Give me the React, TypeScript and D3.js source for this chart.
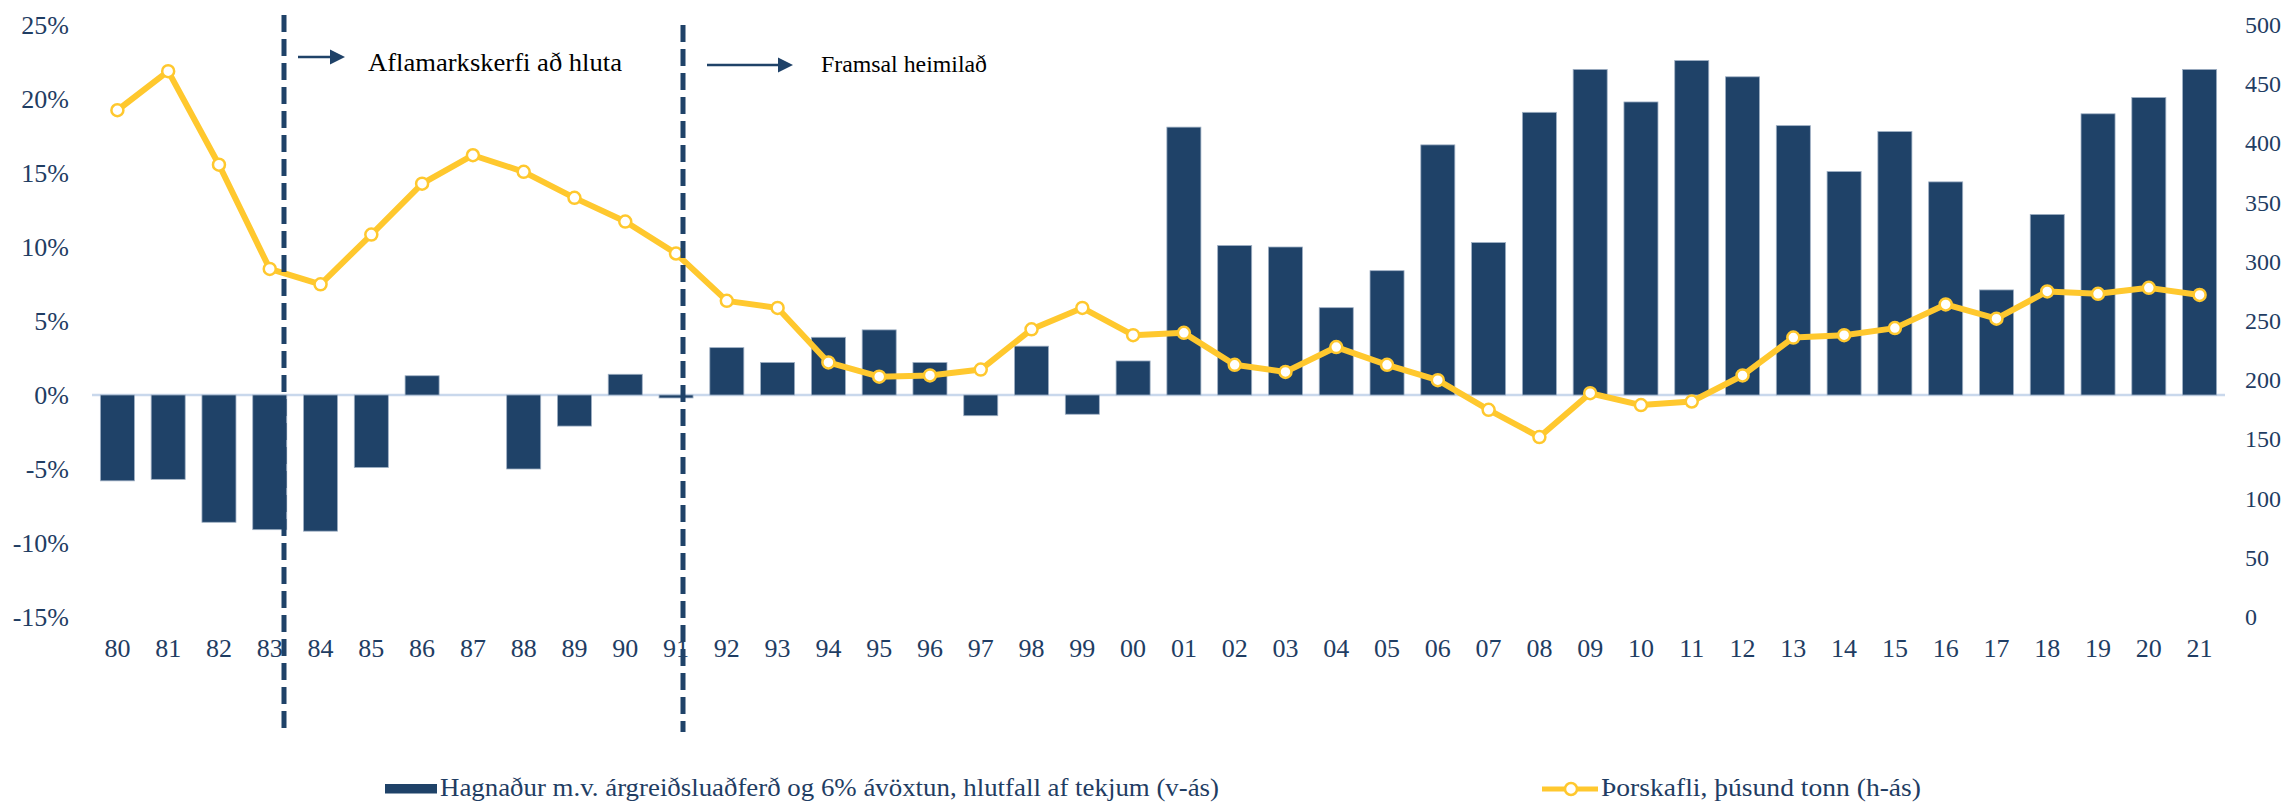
import React from "react";
import { scaleBand, scaleLinear, line } from "d3";

// ár (síðustu tveir stafir)
const categories = [
  "80", "81", "82", "83", "84", "85", "86", "87", "88", "89", "90", "91",
  "92", "93", "94", "95", "96", "97", "98", "99", "00", "01", "02", "03",
  "04", "05", "06", "07", "08", "09", "10", "11", "12", "13", "14", "15",
  "16", "17", "18", "19", "20", "21",
];

// Hagnaður, % af tekjum (vinstri ás)
const profitPct = [
  -5.8, -5.7, -8.6, -9.1, -9.2, -4.9, 1.3, 0, -5.0, -2.1, 1.4, -0.2,
  3.2, 2.2, 3.9, 4.4, 2.2, -1.4, 3.3, -1.3, 2.3, 18.1, 10.1, 10.0,
  5.9, 8.4, 16.9, 10.3, 19.1, 22.0, 19.8, 22.6, 21.5, 18.2, 15.1, 17.8,
  14.4, 7.1, 12.2, 19.0, 20.1, 22.0,
];

// Þorskafli, þúsund tonn (hægri ás)
const codCatch = [
  428, 461, 382, 294, 281, 323, 366, 390, 376, 354, 334, 307,
  267, 261, 215, 203, 204, 209, 243, 261, 238, 240, 213, 207,
  228, 213, 200, 175, 152, 189, 179, 182, 204, 236, 238, 244,
  264, 252, 275, 273, 278, 272,
];

const leftTicks = [25, 20, 15, 10, 5, 0, -5, -10, -15];
const rightTicks = [500, 450, 400, 350, 300, 250, 200, 150, 100, 50, 0];

const navy = "#1f4268";
const textNavy = "#1f3d63";
const yellow = "#ffc82e";
const font = "'Liberation Serif', 'Times New Roman', serif";

export default function App() {
  const width = 2287;
  const height = 804;

  const x = scaleBand()
    .domain(categories)
    .range([92, 2225])
    .paddingInner(0.33)
    .paddingOuter(0.165);

  const yLeft = scaleLinear().domain([-15, 25]).range([617, 25]);
  const yRight = scaleLinear().domain([0, 500]).range([617, 25]);

  const cx = (c) => (x(c) ?? 0) + x.bandwidth() / 2;

  const catchLine = line()
    .x((d, i) => cx(categories[i]))
    .y((d) => yRight(d));

  const markers = [
    { x: 284, y1: 15, y2: 728, ax1: 298, ax2: 345, ay: 57, text: "Aflamarkskerfi að hluta", tx: 368, ty: 71, fs: 26, len: 254 },
    { x: 683, y1: 25, y2: 732, ax1: 707, ax2: 793, ay: 65, text: "Framsal heimilað", tx: 821, ty: 72, fs: 24, len: 166 },
  ];

  return (
    <svg
      width={width}
      height={height}
      style={{ position: "absolute", left: 0, top: 0, background: "#fff" }}
      fontFamily={font}
    >
      {/* vinstri ás */}
      {leftTicks.map((t) => (
        <text
          key={t}
          x={69}
          y={yLeft(t)}
          textAnchor="end"
          dominantBaseline="central"
          fontSize={26}
          fill={textNavy}
        >
          {t}%
        </text>
      ))}

      {/* hægri ás */}
      {rightTicks.map((t) => (
        <text
          key={t}
          x={2245}
          y={yRight(t)}
          textAnchor="start"
          dominantBaseline="central"
          fontSize={24}
          fill={textNavy}
        >
          {t}
        </text>
      ))}

      {/* ár */}
      {categories.map((c) => (
        <text key={c} x={cx(c)} y={657} textAnchor="middle" fontSize={26} fill={textNavy}>
          {c}
        </text>
      ))}

      <line x1={92} x2={2225} y1={yLeft(0)} y2={yLeft(0)} stroke="#c9d8ec" strokeWidth={2.5} />

      {profitPct.map((v, i) => {
        const c = categories[i];
        if (v === 0) return null;
        const y0 = yLeft(0);
        const y1 = yLeft(v);
        return (
          <rect
            key={c}
            x={x(c)}
            y={Math.min(y0, y1)}
            width={x.bandwidth()}
            height={Math.abs(y1 - y0)}
            fill={navy}
            stroke="#9fb0c4"
            strokeWidth={0.8}
          />
        );
      })}

      <path
        d={catchLine(codCatch) ?? ""}
        fill="none"
        stroke={yellow}
        strokeWidth={6}
        strokeLinejoin="round"
      />
      {codCatch.map((v, i) => (
        <circle key={i} cx={cx(categories[i])} cy={yRight(v)} r={6} fill="#fff" stroke={yellow} strokeWidth={2.5} />
      ))}

      {/* lóðréttar línur og skýringar */}
      {markers.map((m) => (
        <g key={m.text}>
          <line x1={m.x} x2={m.x} y1={m.y1} y2={m.y2} stroke={navy} strokeWidth={5} strokeDasharray="17,7" />
          <line x1={m.ax1} x2={m.ax2 - 14} y1={m.ay} y2={m.ay} stroke={navy} strokeWidth={2.5} />
          <path d={`M${m.ax2 - 15},${m.ay - 7.5} L${m.ax2},${m.ay} L${m.ax2 - 15},${m.ay + 7.5} Z`} fill={navy} />
          <text x={m.tx} y={m.ty} fontSize={m.fs} fill="#000" textLength={m.len} lengthAdjust="spacingAndGlyphs">
            {m.text}
          </text>
        </g>
      ))}

      {/* skýringar */}
      <rect x={385} y={784} width={52} height={9.5} fill={navy} />
      <text x={440} y={796} fontSize={25} fill={textNavy} textLength={779} lengthAdjust="spacingAndGlyphs">
        Hagnaður m.v. árgreiðsluaðferð og 6% ávöxtun, hlutfall af tekjum (v-ás)
      </text>
      <line x1={1542} x2={1598} y1={789} y2={789} stroke={yellow} strokeWidth={5} />
      <circle cx={1571} cy={789} r={6} fill="#fff" stroke={yellow} strokeWidth={2.5} />
      <text x={1601} y={796} fontSize={25} fill={textNavy} textLength={320} lengthAdjust="spacingAndGlyphs">
        Þorskafli, þúsund tonn  (h-ás)
      </text>
    </svg>
  );
}
